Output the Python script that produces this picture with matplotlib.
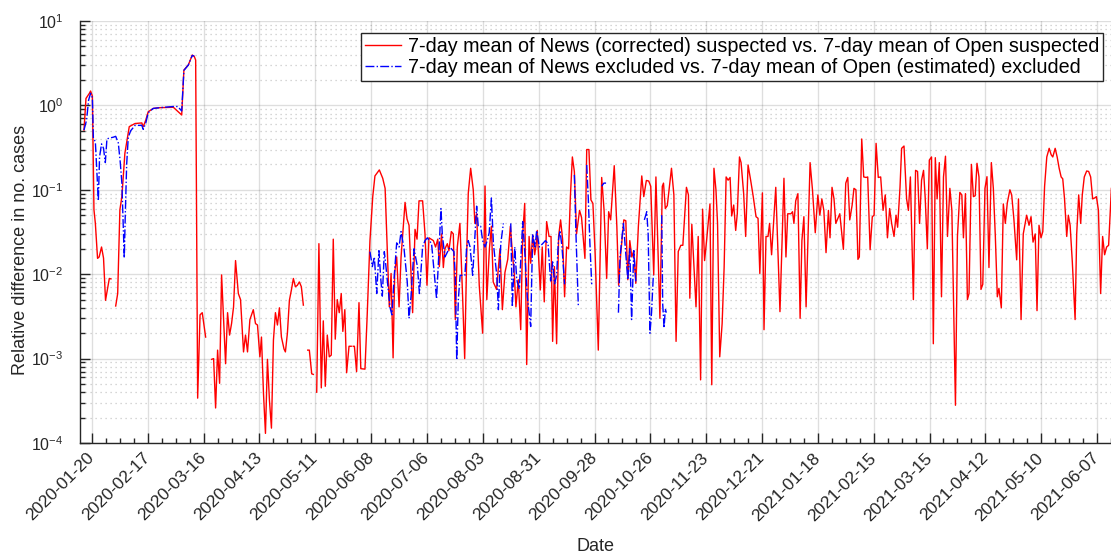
import numpy as np
import matplotlib
matplotlib.use('Agg')
import matplotlib.pyplot as plt
import matplotlib.dates as mdates
from matplotlib.ticker import FixedLocator, LogLocator, LogFormatterMathtext, NullFormatter

plt.rcParams['font.family'] = ['Liberation Sans', 'DejaVu Sans']
plt.rcParams['mathtext.fontset'] = 'custom'
plt.rcParams['mathtext.rm'] = 'Liberation Sans'
plt.rcParams['mathtext.it'] = 'Liberation Sans:italic'

nan = np.nan
start = np.datetime64('2020-01-20')

# days after 2020-01-20, relative difference
red_day = [-4, -3, -1.3, -0.7, 0.2, 1, 1.7, 2.8, 3.6, 4.8, 5.8, 6.8, 8.7, 9.5,
           10.5,
           11.9, 12.9, 14, 15, 16.5, 18.7, 21.6, 25, 25.7, 27, 28.2, 30.7, 34, 40.8, 45,
           46.1, 48.3, 50.3, 51.3, 52, 53, 54.2, 55.3, 57,
           58.5,
           60, 61, 62, 63, 64, 65, 67, 68, 69, 70, 71, 72, 73.4, 74.5, 76, 77, 78, 79.2,
           80.9, 82, 83, 84.2, 85, 86, 87, 88, 89, 90, 91, 92, 93, 94, 95, 96.3, 97, 98,
           99, 100, 101, 102, 103, 104, 105, 106,
           107,
           108.2, 109, 110.2, 111,
           112,
           112.7, 113.8, 115, 116, 117, 118, 119, 120, 121, 122, 123, 124, 125, 125.8,
           126.8, 127.7, 128.9, 130,
           130.5,
           131, 131.6, 132.7, 133.9, 134.8, 136.9, 138, 139.4, 140.8, 141.9, 144.1,
           145.8, 147, 147.8, 149.1, 150, 151, 151.8, 152.8, 154, 155, 157, 158, 159,
           160.8, 162, 163, 164, 165.8, 167, 168, 169, 171.2, 172.3, 173.4, 174.2,
           175.3, 176.2, 177, 178.2, 179, 180.2, 181.2, 182.2, 183.2, 184.5, 185.9,
           186.9, 188, 188.7, 189.9, 191.2, 192, 192.9, 194.2, 195.9, 197.1, 198,
           199.3, 200.3, 201.2, 202.9, 204.6, 205.8, 207.1, 208.5, 209.8, 211, 211.8,
           212.6, 213.8, 215, 216, 217, 218, 219.2, 220, 221, 222, 222.7, 223.3, 224.8,
           225.8, 226.8, 228, 229.2, 230.2, 231, 231.9, 233, 234, 235, 236, 237, 238,
           239, 239.9, 240.9, 241.9, 243, 244.5, 245.5, 247.2, 248.1, 249.2, 250.2,
           251.2, 252.3, 253.9, 255.6, 256.8, 258.1, 259.1, 260.1, 261.9, 263.2, 264.1,
           265.1, 266.7, 267.7, 268.7, 269.7, 270.7, 271.7, 272.7, 274, 275.7, 276.7,
           278, 279.2, 280.2, 281.7, 282.8, 284.8, 286, 286.6, 287.5, 288.5, 290.6,
           291.8, 292.9, 294, 295.3, 296.3, 298.1, 299.1, 299.8, 300.8, 302.9, 304,
           305.2, 306.2, 307.2, 308.2, 309.9, 310.8, 311.9, 312.9, 313.7, 314.8, 316,
           317, 318, 319, 320, 320.8, 321.8, 322.8, 323.6, 324.7, 325.5, 326.8, 327.8,
           329, 330.3, 331.6, 333, 334, 334.9, 336.2, 337, 338, 339, 339.8, 340.8,
           342.9, 345, 347, 348, 348.9, 350.5, 351.3, 352, 352.9, 354, 355.1, 356, 357,
           358.1, 360.1, 361.3, 362.7, 364, 365, 366, 367, 368.1, 369.3, 370.1, 371.1,
           372.1, 373, 375, 376.8, 378, 379, 380, 381.2, 382.1, 383.1, 384.1, 384.8,
           386, 387, 388.2, 389, 390.2, 391.3, 392.2, 393.2, 394.3, 395.5, 396.7,
           397.8, 398.9, 400, 401, 402.2, 403.2, 404, 405.2, 406, 407.2, 408.5, 409.4,
           410.4, 411.9, 413, 414, 415, 416, 417, 417.8, 418.9, 419.9, 421, 421.9,
           422.9, 423.8, 424.9, 426, 427, 428, 429, 430.2, 431.2, 433, 434, 435.2,
           436.2, 437, 438, 439, 439.8, 441, 442, 442.9, 443.8, 444.8, 445.8, 446.7,
           447.8, 448.8, 449.8, 451, 452, 453, 454, 454.8, 456, 457, 458, 459, 460.3,
           461.2, 462.3, 463.7, 464.6, 465.9, 467, 468.7, 469.9, 470.9, 471.9, 473,
           473.9, 474.9, 475.9, 476.8, 477.7, 478.8, 480, 481, 481.8, 483, 484, 485,
           486, 486.8, 487.7, 488.8, 489.6, 490.5, 491.6, 493, 493.8, 494.8, 495.8,
           496.6, 497.6, 498.8, 499.8, 500.8, 501.8, 502.8, 503.7, 504.7, 505.8, 506.8,
           507.8, 508.8, 509.8, 511.2]
red_val = [0.51, 1.21, 1.39, 1.48, 1.29, 0.058, 0.040, 0.0154, 0.016, 0.021, 0.0155, 0.0049, 0.0089, 0.0088,
           nan,
           0.0042, 0.0059, 0.058, 0.083, 0.27, 0.56, 0.61, 0.62, 0.56, 0.67, 0.84, 0.92, 0.94, 0.95, 0.77,
           2.62, 3.01, 3.95, 3.8, 3.45, 0.00034, 0.0033, 0.0035, 0.0018,
           nan,
           0.00098, 0.001, 0.00026, 0.00126, 0.00051, 0.0098, 0.00087, 0.0035, 0.0019, 0.0026, 0.0041,
           0.0145, 0.0059, 0.005, 0.0012, 0.0019, 0.0012, 0.0029, 0.0038, 0.0026, 0.0025, 0.00105,
           0.0018, 0.00039, 0.00013, 0.00098, 0.00032, 0.00015, 0.00166, 0.0035, 0.0025, 0.004,
           0.0018, 0.0013, 0.0012, 0.002, 0.0049, 0.0065, 0.0089, 0.0071, 0.0074, 0.0081, 0.0071, 0.0043,
           nan,
           0.00126, 0.00126, 0.00066, 0.00065,
           nan,
           0.0004, 0.023, 0.00045, 0.0028, 0.00047, 0.0019, 0.00105, 0.0011, 0.026, 0.0017, 0.005,
           0.0035, 0.0059, 0.0021, 0.0038, 0.00068, 0.0014, 0.0014,
           nan,
           0.0014, 0.0014, 0.0007, 0.0046, 0.00076, 0.00075, 0.0032, 0.025, 0.083, 0.146, 0.172,
           0.137, 0.104, 0.030, 0.0041, 0.0102, 0.00102, 0.0105, 0.016, 0.0041, 0.016, 0.071, 0.045,
           0.038, 0.0035, 0.034, 0.026, 0.074, 0.074, 0.030, 0.0074, 0.027, 0.025, 0.021, 0.026,
           0.0123, 0.030, 0.012, 0.020, 0.023, 0.019, 0.032, 0.030, 0.0029, 0.021, 0.040, 0.0051,
           0.001, 0.021, 0.091, 0.18, 0.10, 0.040, 0.052, 0.0074, 0.0020, 0.111, 0.0050, 0.020,
           0.037, 0.0081, 0.0066, 0.020, 0.0038, 0.0105, 0.015, 0.037, 0.016, 0.0098, 0.0041,
           0.0086, 0.0022, 0.030, 0.069, 0.00085, 0.028, 0.0135, 0.029, 0.017, 0.022, 0.033,
           0.0065, 0.021, 0.0047, 0.042, 0.028, 0.028, 0.0016, 0.0123, 0.0015, 0.028, 0.044,
           0.026, 0.0054, 0.021, 0.02, 0.083, 0.245, 0.164, 0.030, 0.057, 0.047, 0.0154, 0.30,
           0.30, 0.076, 0.069, 0.0178, 0.00126, 0.14, 0.057, 0.0089, 0.055, 0.044, 0.193, 0.037,
           0.0074, 0.017, 0.044, 0.043, 0.0086, 0.025, 0.016, 0.019, 0.0078, 0.037, 0.146, 0.083,
           0.129, 0.127, 0.11, 0.0098, 0.142, 0.003, 0.11, 0.12, 0.06, 0.065, 0.18, 0.087,
           0.0016, 0.0186, 0.022, 0.022, 0.107, 0.087, 0.0052, 0.039, 0.0041, 0.028, 0.00056,
           0.059, 0.0145, 0.025, 0.068, 0.00049, 0.18, 0.10, 0.04, 0.00105, 0.0026, 0.012,
           0.142, 0.13, 0.14, 0.049, 0.066, 0.033, 0.052, 0.245, 0.21, 0.09, 0.028, 0.197, 0.13,
           0.083, 0.048, 0.046, 0.0102, 0.092, 0.0022, 0.028, 0.028, 0.040, 0.017, 0.107, 0.0036,
           0.137, 0.016, 0.052, 0.052, 0.055, 0.040, 0.074, 0.09, 0.003, 0.025, 0.048, 0.0041,
           0.21, 0.10, 0.031, 0.087, 0.05, 0.078, 0.057, 0.018, 0.057, 0.027, 0.107, 0.078, 0.04,
           0.052, 0.0197, 0.12, 0.14, 0.044, 0.066, 0.104, 0.1, 0.015, 0.016, 0.40, 0.142, 0.14,
           0.142, 0.0195, 0.048, 0.05, 0.355, 0.14, 0.142, 0.057, 0.087, 0.027, 0.06, 0.04,
           0.028, 0.05, 0.036, 0.107, 0.31, 0.33, 0.078, 0.057, 0.142, 0.005, 0.17, 0.165, 0.04,
           0.13, 0.17, 0.083, 0.02, 0.225, 0.245, 0.0015, 0.24, 0.078, 0.21, 0.0054, 0.142, 0.25,
           0.028, 0.104, 0.057, 0.00028, 0.028, 0.093, 0.087, 0.027, 0.09, 0.005, 0.0059, 0.2,
           0.083, 0.085, 0.206, 0.142, 0.0066, 0.0076, 0.104, 0.143, 0.012, 0.21, 0.104, 0.028,
           0.0054, 0.0068, 0.004, 0.068, 0.04, 0.07, 0.1, 0.087, 0.045, 0.0148, 0.078, 0.0029,
           0.03, 0.05, 0.038, 0.048, 0.024, 0.03, 0.0037, 0.038, 0.027, 0.032, 0.11, 0.245, 0.31,
           0.26, 0.245, 0.31, 0.245, 0.18, 0.142, 0.135, 0.078, 0.028, 0.05, 0.038, 0.014,
           0.0029, 0.03, 0.087, 0.040, 0.087, 0.142, 0.167, 0.165, 0.142, 0.078, 0.08, 0.083,
           0.057, 0.0059, 0.028, 0.017, 0.021, 0.022, 0.104]

blue_day = [-4, -2.7, -1.7, -0.7, 0.2, 0.7, 1.7, 2.3, 3.2, 3.8, 4.8, 5.8, 6.7, 7.5, 8.7,
            10.7, 11.9, 13.2, 14.2, 15, 15.7, 16.2, 16.7, 17.4, 18.2, 19.4, 21.6, 25,
            25.7, 27, 28.2, 30.7, 34, 40.8, 43, 45, 46.1, 48.3, 50.3, 51.3,
            52,
            139.4, 140.6, 141.6, 142.8, 143.9, 144.8, 145.6, 146.6, 147.4, 149.4, 150.4,
            151.6, 152.8, 154, 155, 156.5, 158.1, 159, 160, 161.5, 163.2, 164.2, 165.8,
            167, 168.2, 170.3, 172.8, 174, 175, 175.7, 177, 179.5, 181.5, 182.2, 182.9,
            183.7, 184.6, 187, 187.9, 188.7, 189.6, 190.9, 192, 192.9, 193.7, 194.9,
            195.9, 197.1, 198.2, 199.2, 200.3, 201.3, 203, 203.8, 205, 206.3,
            208,
            210, 210.8, 212, 213, 214.3, 216, 217.2, 218.3, 220, 221, 222.2, 223, 224.3,
            226, 227.4, 228.7, 230, 231, 232, 233, 233.9, 234.7, 235.7, 237,
            239,
            241.9, 242.7, 243.9,
            246,
            248.1, 248.9, 249.7, 250.6,
            253,
            255.6, 256.7, 257.8,
            260,
            264, 264.8, 266.5, 268.7, 269.7, 270.6, 271.7, 272.8,
            275,
            277, 278.2, 278.9, 279.8, 280.6, 281.5,
            283,
            285.7, 286.2, 286.9, 287.5, 288]
blue_val = [0.51, 0.67, 1.15, 1.39, 1.23, 0.41, 0.37, 0.19, 0.074, 0.245, 0.35, 0.31, 0.21, 0.40, 0.41,
            0.42, 0.43, 0.36, 0.21, 0.12, 0.037, 0.0155, 0.05, 0.2, 0.42, 0.50, 0.58, 0.58,
            0.52, 0.62, 0.82, 0.92, 0.94, 0.97, 0.97, 0.86, 2.6, 3.0, 3.9, 3.85,
            nan,
            0.0185, 0.0123, 0.016, 0.0059, 0.019, 0.0089, 0.0055, 0.0185, 0.0125, 0.0041, 0.0033,
            0.0096, 0.0235, 0.021, 0.032, 0.02, 0.0081, 0.003, 0.0055, 0.02, 0.0123, 0.0059, 0.021,
            0.025, 0.027, 0.023, 0.0051, 0.0185, 0.060, 0.029, 0.016, 0.021, 0.0185, 0.0097, 0.00096,
            0.0049, 0.0097, 0.0097, 0.021, 0.025, 0.021, 0.0097, 0.027, 0.064, 0.037, 0.037,
            0.025, 0.021, 0.025, 0.031, 0.08, 0.023, 0.0097, 0.0038, 0.023, 0.040,
            nan,
            0.040, 0.0041, 0.021, 0.0086, 0.0067, 0.042, 0.016, 0.0054, 0.0024, 0.030, 0.021, 0.033, 0.021,
            0.023, 0.025, 0.023, 0.0083, 0.014, 0.0077, 0.0097, 0.025, 0.033, 0.021, 0.0076,
            nan,
            0.15, 0.030, 0.0041,
            nan,
            0.197, 0.077, 0.023, 0.0076,
            nan,
            0.11, 0.12, 0.12,
            nan,
            0.0035, 0.016, 0.04, 0.0086, 0.02, 0.0029, 0.019, 0.0078,
            nan,
            0.044, 0.055, 0.030, 0.002, 0.0035, 0.0097,
            nan,
            0.05, 0.0044, 0.0023, 0.0039, 0.0035]

major_dates = np.arange(start, np.datetime64('2021-06-08'), np.timedelta64(28, 'D'))
minor_dates = np.arange(np.datetime64('2020-01-13'), np.datetime64('2021-06-15'), np.timedelta64(7, 'D'))

t0 = mdates.date2num(start)
red_x = t0 + np.array(red_day, dtype=float)
blue_x = t0 + np.array(blue_day, dtype=float)

fig = plt.figure(figsize=(11.11, 5.6), dpi=100)
ax = fig.add_axes([80 / 1111, 1 - 443 / 560, 1 - 80 / 1111, (443 - 21) / 560])

ink = (0.15, 0.15, 0.15)
ax.plot(red_x, red_val, color='red', linewidth=1.0,
        label='7-day mean of News (corrected) suspected vs. 7-day mean of Open suspected')
ax.plot(blue_x, blue_val, color='blue', linewidth=1.0, linestyle='-.',
        label='7-day mean of News excluded vs. 7-day mean of Open (estimated) excluded')

ax.set_yscale('log')
ax.set_ylim(1e-4, 10)
ax.set_xlim(t0 - 6, t0 + 511)

ax.xaxis.set_major_locator(FixedLocator(mdates.date2num(major_dates)))
ax.xaxis.set_minor_locator(FixedLocator(mdates.date2num(minor_dates)))
ax.xaxis.set_major_formatter(mdates.DateFormatter('%Y-%m-%d'))
ax.yaxis.set_major_locator(LogLocator(base=10, numticks=10))
ax.yaxis.set_minor_locator(LogLocator(base=10, subs=np.arange(2, 10), numticks=50))
ax.yaxis.set_major_formatter(LogFormatterMathtext())
ax.yaxis.set_minor_formatter(NullFormatter())

ax.set_axisbelow(True)
ax.grid(True, which='major', axis='both', color=ink, alpha=0.15, linewidth=1.0)
ax.grid(True, which='minor', axis='y', color=ink, alpha=0.25, linewidth=0.9,
        linestyle=(0, (1, 3)))

for s in ['top', 'right']:
    ax.spines[s].set_visible(False)
for s in ['left', 'bottom']:
    ax.spines[s].set_color(ink)
    ax.spines[s].set_linewidth(1.0)

ax.tick_params(which='both', direction='in', colors=ink, labelcolor=ink)
ax.tick_params(which='major', length=7, width=1.0)
ax.tick_params(which='minor', length=3.5, width=1.0)
ax.tick_params(axis='y', which='major', pad=12, labelsize=11.5)
ax.tick_params(axis='x', which='major', pad=9, labelsize=12.5)
plt.setp(ax.get_xticklabels(), rotation=45, ha='right', va='center', rotation_mode='anchor')

ax.set_xlabel('Date', fontsize=13, color=ink)
ax.set_ylabel('Relative difference in no. cases', fontsize=13, color=ink)
ax.xaxis.set_label_coords(0.5, (443 - 538) / 422)
ax.yaxis.set_label_coords((29 - 80) / 1031, (443 - 250) / 422)

leg = ax.legend(loc='upper right', bbox_to_anchor=((1103 - 80) / 1031, (443 - 33) / 422),
                bbox_transform=ax.transAxes, borderaxespad=0, fontsize=14.2,
                fancybox=False, framealpha=1, edgecolor=ink, handlelength=1.8,
                handletextpad=0.35, borderpad=0.2, labelspacing=0.12)
leg.get_frame().set_linewidth(1.0)

fig.savefig('out.png', dpi=100)
